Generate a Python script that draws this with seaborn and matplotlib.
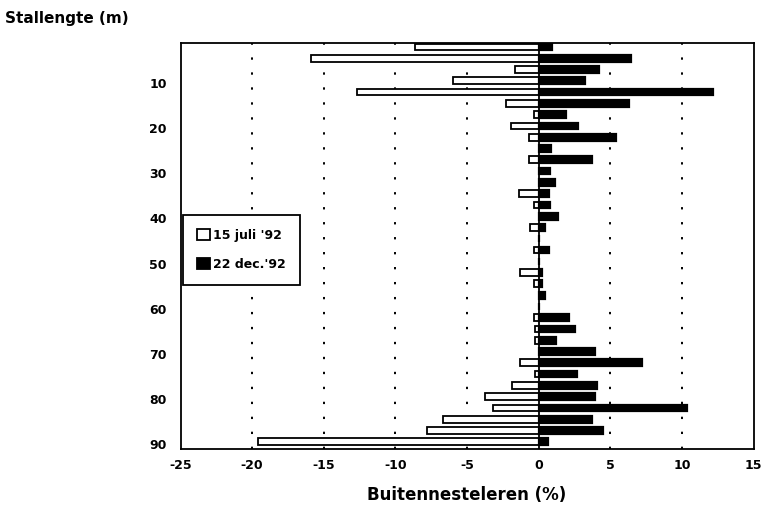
import matplotlib
matplotlib.use("Agg")
import matplotlib.pyplot as plt
import seaborn as sns
import pandas as pd

# Stall length positions (m)
stallengte = [2.0, 4.5, 7.0, 9.5, 12.0, 14.5, 17.0, 19.5, 22.0, 24.5, 27.0, 29.5,
              32.0, 34.5, 37.0, 39.5, 42.0, 44.5, 47.0, 49.5, 52.0, 54.5, 57.0, 59.5,
              62.0, 64.5, 67.0, 69.5, 72.0, 74.5, 77.0, 79.5, 82.0, 84.5, 87.0, 89.5]

# 15 juli '92 (drawn to the left)
juli_92 = [-8.6, -15.9, -1.67, -6.0, -12.7, -2.26, -0.3, -1.95, -0.65, 0.0, -0.67, 0.0,
           0.0, -1.35, -0.3, 0.0, -0.6, 0.0, -0.33, 0.0, -1.33, -0.3, 0.0, 0.0,
           -0.3, -0.26, -0.26, 0.0, -1.28, -0.26, -1.88, -3.74, -3.16, -6.7, -7.8, -19.6]

# 22 dec.'92 (drawn to the right)
dec_92 = [0.9, 6.44, 4.19, 3.23, 12.2, 6.33, 1.88, 2.74, 5.42, 0.84, 3.72, 0.81,
          1.16, 0.74, 0.81, 1.37, 0.42, 0.0, 0.7, 0.0, 0.26, 0.26, 0.44, 0.0,
          2.09, 2.56, 1.23, 3.9, 7.2, 2.67, 4.09, 3.9, 10.35, 3.7, 4.5, 0.67]

series_names = ["15 juli '92", "22 dec.'92"]
x_ticks = [-25, -20, -15, -10, -5, 0, 5, 10, 15]
y_ticks = [10, 20, 30, 40, 50, 60, 70, 80, 90]
x_label = "Buitennesteleren (%)"
y_label = "Stallengte (m)"

df = pd.concat([
    pd.DataFrame({"stallengte": stallengte, "waarde": juli_92, "reeks": series_names[0]}),
    pd.DataFrame({"stallengte": stallengte, "waarde": dec_92, "reeks": series_names[1]}),
], ignore_index=True)

sns.set_theme(style="white")
plt.rcParams['font.family'] = ['DejaVu Sans']
plt.rcParams['font.weight'] = 'bold'
plt.rcParams['text.color'] = 'black'
plt.rcParams['axes.labelcolor'] = 'black'
plt.rcParams['xtick.color'] = 'black'
plt.rcParams['ytick.color'] = 'black'

fig = plt.figure(figsize=(7.65, 5.11), dpi=100)
ax = fig.add_axes([0.236, 0.1213, 0.749, 0.7945])

sns.barplot(data=df, x="waarde", y="stallengte", hue="reeks", orient="y",
            native_scale=True, dodge=False, width=0.6, errorbar=None,
            palette={series_names[0]: "white", series_names[1]: "black"},
            edgecolor="black", linewidth=1.3, ax=ax)

# thicker black bars
if len(ax.containers) > 1:
    for p in ax.containers[1]:
        p.set_linewidth(1.6)

ax.set_xlim(-25, 15)
ax.set_ylim(91.1, 1.13)
ax.set_xticks(x_ticks)
ax.set_xticklabels([str(t) for t in x_ticks], fontsize=9, fontweight='bold')
ax.set_yticks(y_ticks)
ax.set_yticklabels([str(t) for t in y_ticks], fontsize=9, fontweight='bold')
ax.tick_params(axis='both', length=0, colors='black')
ax.tick_params(axis='x', pad=7)
ax.tick_params(axis='y', pad=10)

for t in x_ticks[1:-1]:
    if t != 0:
        ax.axvline(t, color='black', lw=1.4, linestyle=(0, (1.2, 6.5)), zorder=0)
ax.axvline(0, color='black', lw=1.3, zorder=3)

for s in ax.spines.values():
    s.set_color('black')
    s.set_linewidth(1.3)

ax.set_xlabel(x_label, fontsize=12, fontweight='bold', labelpad=10)
ax.set_ylabel("")
fig.text(0.006, 0.978, y_label, fontsize=11, fontweight='bold', ha='left', va='top')

handles, labels = ax.get_legend_handles_labels()
leg = ax.legend(handles, labels, loc='upper left', bbox_to_anchor=(0.004, 0.577),
                frameon=True, fancybox=False, edgecolor='black', framealpha=1,
                prop={'size': 9, 'weight': 'bold'}, handlelength=1.0, handleheight=1.0,
                handletextpad=0.25, labelspacing=1.25, borderpad=1.15, borderaxespad=0)
leg.get_frame().set_linewidth(1.3)

fig.savefig("out.png", dpi=100)
